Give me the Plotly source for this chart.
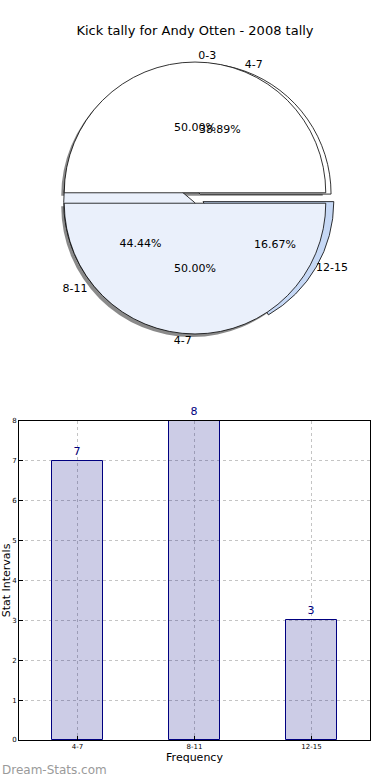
import plotly.graph_objects as go

title_text = "Kick tally for Andy Otten - 2008 tally"
pie1_labels = ["0-3", "4-7"]
pie1_values = [1, 1]
pie2_labels = ["4-7", "8-11", "12-15"]
pie2_values = [7, 8, 3]
bar_cats = ["4-7", "8-11", "12-15"]
bar_vals = [7, 8, 3]

W, H = 390, 780
FONT = "DejaVu Sans"


def start_rot(values):
    # plotly counterclockwise: first slice ends at rotation; we want it to start at 3 o'clock
    return 90 - 360 * values[0] / sum(values)


ROT1 = start_rot(pie1_values)
ROT2 = start_rot(pie2_values)


def px_x(x):
    return x / W


def px_y(y):
    return 1 - y / H


cx, cy, R = 195, 198, 136
pie_dom = dict(x=[px_x(cx - R), px_x(cx + R)], y=[px_y(cy + R), px_y(cy - R)])
shadow_dom = dict(x=[px_x(cx - R - 3), px_x(cx + R - 3)], y=[px_y(cy + R + 3), px_y(cy - R + 3)])
pie2_dom = dict(x=[px_x(cx - R + 2), px_x(cx + R + 5)], y=[px_y(cy + R + 1), px_y(cy - R + 1)])

fig = go.Figure()

# shadow
fig.add_trace(go.Pie(
    labels=pie1_labels, values=pie1_values, sort=False, direction="counterclockwise",
    rotation=ROT1, pull=[0.04, 0.04], domain=shadow_dom, textinfo="none",
    marker=dict(colors=["#8a8a8a", "#8a8a8a"], line=dict(width=0)),
    showlegend=False, hoverinfo="skip"))

# second pie (under)
fig.add_trace(go.Pie(
    labels=pie2_labels, values=pie2_values, sort=False, direction="counterclockwise",
    rotation=ROT2, pull=[0.04, 0.04, 0.04], domain=pie2_dom,
    textinfo="none",
    marker=dict(colors=["#ffffff", "#eaf0fb", "#c6d8f5"], line=dict(color="#000000", width=0.8)),
    showlegend=False, hoverinfo="skip"))

# first pie (on top)
fig.add_trace(go.Pie(
    labels=pie1_labels, values=pie1_values, sort=False, direction="counterclockwise",
    rotation=ROT1, pull=[0.04, 0.04], domain=pie_dom, textinfo="none",
    marker=dict(colors=["#ffffff", "#eaf0fb"], line=dict(color="#000000", width=0.8)),
    showlegend=False, hoverinfo="skip"))

# text overlays (transparent)
for labels, values, rot in [(pie1_labels, pie1_values, ROT1), (pie2_labels, pie2_values, ROT2)]:
    n = len(labels)
    fig.add_trace(go.Pie(
        labels=labels, values=values, sort=False, direction="counterclockwise",
        rotation=rot, pull=[0.04] * n, domain=pie_dom,
        textinfo="percent", texttemplate="%{percent:.2%}", textposition="inside",
        insidetextorientation="horizontal",
        textfont=dict(family=FONT, size=11, color="#000000"),
        marker=dict(colors=["rgba(0,0,0,0)"] * n, line=dict(width=0)),
        showlegend=False, hoverinfo="skip"))
    fig.add_trace(go.Pie(
        labels=labels, values=values, sort=False, direction="counterclockwise",
        rotation=rot, pull=[0.04] * n, domain=pie_dom,
        texttemplate="%{label}", textposition="outside",
        textfont=dict(family=FONT, size=11, color="#000000"),
        marker=dict(colors=["rgba(0,0,0,0)"] * n, line=dict(width=0)),
        showlegend=False, hoverinfo="skip"))

# bar chart
fig.add_trace(go.Bar(
    x=bar_cats, y=bar_vals, width=0.44,
    marker=dict(color="rgba(0,0,128,0.2)", line=dict(color="#000080", width=1)),
    text=[str(v) for v in bar_vals], textposition="outside",
    textfont=dict(family=FONT, size=11, color="#000080"), cliponaxis=False,
    showlegend=False, hoverinfo="skip"))

grid = dict(showgrid=True, gridcolor="#c4c4c4", griddash="dot", gridwidth=1)

fig.update_layout(
    width=W, height=H, margin=dict(l=0, r=0, t=0, b=0),
    paper_bgcolor="white", plot_bgcolor="white",
    font=dict(family=FONT, color="#000000"),
    title=dict(text=title_text, x=0.5, xanchor="center", y=px_y(30), yanchor="middle",
               font=dict(family=FONT, size=13, color="#000000")),
    xaxis=dict(domain=[px_x(19), px_x(370)], range=[-0.5, 2.5], type="category",
               automargin=False,
               showline=True, linecolor="black", linewidth=1, mirror=True,
               ticks="inside", ticklen=4, tickcolor="black",
               tickfont=dict(family=FONT, size=7, color="#000000"),
               title=dict(text="Frequency", font=dict(family=FONT, size=11), standoff=2),
               zeroline=False, fixedrange=True, **grid),
    yaxis=dict(domain=[px_y(740), px_y(421)], range=[0, 8], dtick=1,
               automargin=False,
               showline=True, linecolor="black", linewidth=1, mirror=True,
               ticks="inside", ticklen=4, tickcolor="black",
               tickfont=dict(family=FONT, size=7, color="#000000"),
               title=dict(text="Stat Intervals", font=dict(family=FONT, size=11), standoff=2),
               zeroline=False, fixedrange=True, **grid),
    bargap=0,
    annotations=[dict(text="Dream-Stats.com", x=0, y=px_y(770), xref="paper", yref="paper",
                      xanchor="left", yanchor="middle", showarrow=False,
                      font=dict(family=FONT, size=12, color="#9a9a9a"))],
)

fig.write_html("out.html", config={"displayModeBar": False},
               post_script="document.body.style.margin='0';document.body.style.overflow='hidden';")
